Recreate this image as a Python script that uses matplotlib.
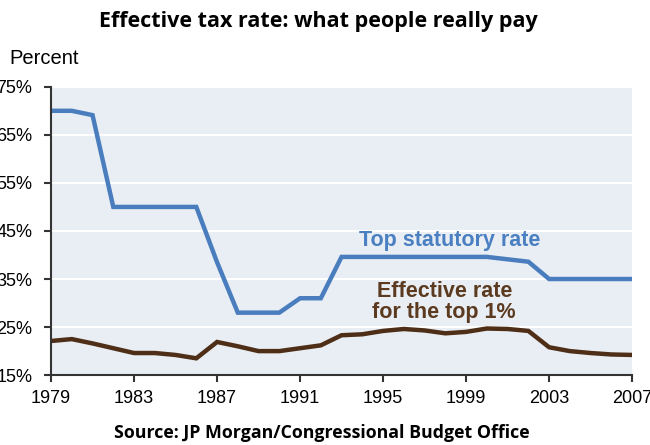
import matplotlib.pyplot as plt

years = list(range(1979, 2008))
top_statutory = [70, 70, 69.1, 50, 50, 50, 50, 50, 38.5, 28, 28, 28, 31, 31,
                 39.6, 39.6, 39.6, 39.6, 39.6, 39.6, 39.6, 39.6, 39.1, 38.6,
                 35, 35, 35, 35, 35]
effective_top1 = [22.1, 22.5, 21.6, 20.6, 19.6, 19.6, 19.2, 18.5, 21.9, 21.0,
                  20.0, 20.0, 20.6, 21.2, 23.3, 23.5, 24.2, 24.6, 24.3, 23.7,
                  24.0, 24.7, 24.6, 24.2, 20.8, 20.0, 19.6, 19.3, 19.2]
y_ticks = [15, 25, 35, 45, 55, 65, 75]
x_ticks = [1979, 1983, 1987, 1991, 1995, 1999, 2003, 2007]

plt.rcParams['font.family'] = 'Liberation Sans'

fig = plt.figure(figsize=(6.5, 4.45), dpi=100)
ax = fig.add_axes([0.0785, 0.157, 0.894, 0.648])
ax.set_facecolor('#e8eef4')

ax.plot(years, top_statutory, color='#4a7dbd', lw=3.2, solid_joinstyle='miter')
ax.plot(years, effective_top1, color='#4e2e16', lw=3.2, solid_joinstyle='miter')

ax.set_xlim(1979, 2007)
ax.set_ylim(15, 75)
ax.set_yticks(y_ticks)
ax.set_yticklabels([f"{t}%" for t in y_ticks])
ax.set_xticks(x_ticks)
ax.tick_params(labelsize=13, color='#333333', width=1.5, length=5)
ax.tick_params(axis='y', pad=8.5)
ax.tick_params(axis='x', pad=6)
ax.grid(axis='y', color='white', lw=1.5)
ax.set_axisbelow(True)
for s in ['top', 'right']:
    ax.spines[s].set_visible(False)
for s in ['left', 'bottom']:
    ax.spines[s].set_color('#333333')
    ax.spines[s].set_linewidth(1.5)

ax.text(1998.2, 43.1, "Top statutory rate", color='#4a7fc1', fontsize=15.5,
        fontweight='bold', ha='center', va='center')
ax.text(1997.95, 30.2, "Effective rate\nfor the top 1%", color='#5b3a1f',
        fontsize=15.5, fontweight='bold', ha='center', va='center',
        linespacing=1.0)

fig.text(0.015, 0.868, "Percent", fontsize=14.5, ha='left', va='center')
fig.text(0.49, 0.952, "Effective tax rate: what people really pay",
         fontsize=15.5, fontweight='bold', family='Open Sans', ha='center', va='center')
fig.text(0.495, 0.028, "Source: JP Morgan/Congressional Budget Office",
         fontsize=12.8, fontweight='bold', family='Open Sans', ha='center', va='center')

fig.savefig('out.png', dpi=100)
